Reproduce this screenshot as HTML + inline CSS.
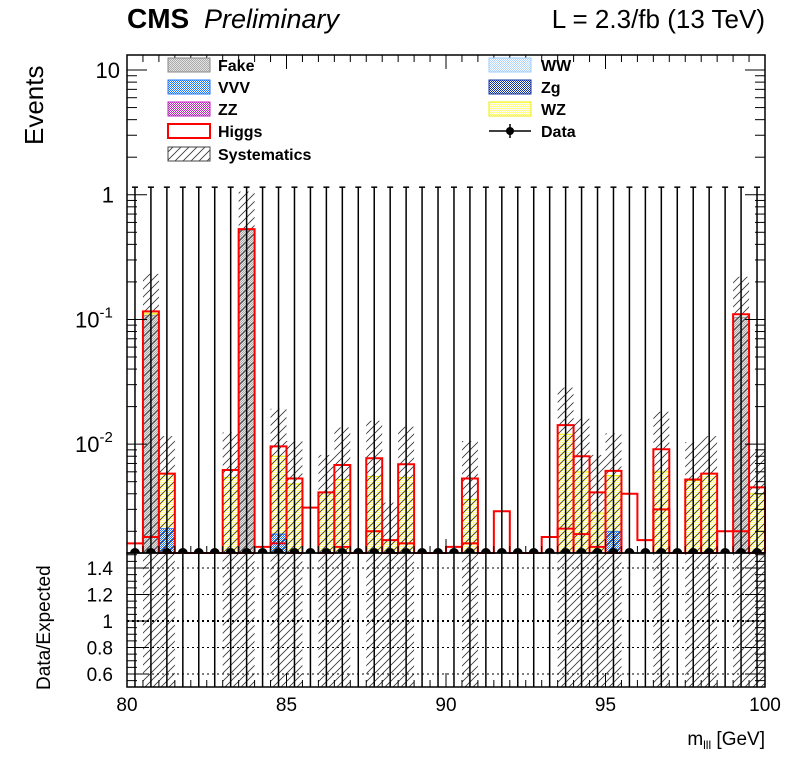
<!DOCTYPE html>
<html><head><meta charset="utf-8"><style>
body{margin:0;background:#fff;}
svg{display:block;font-family:"Liberation Sans",sans-serif;}
</style></head><body>
<svg id="c" width="796" height="772" xmlns="http://www.w3.org/2000/svg">
<defs>
<pattern id="hatch" patternUnits="userSpaceOnUse" width="8" height="8"><path d="M0,8 L8,0 M-2,2 L2,-2 M6,10 L10,6" stroke="#333" stroke-width="0.8"/></pattern>
<pattern id="gchk" patternUnits="userSpaceOnUse" width="2" height="2"><rect width="2" height="2" fill="#e4e4e4"/><rect width="1" height="1" fill="#aaa"/><rect x="1" y="1" width="1" height="1" fill="#aaa"/></pattern>
<pattern id="ychk" patternUnits="userSpaceOnUse" width="2" height="2"><rect width="2" height="2" fill="#fff"/><rect width="1" height="1" fill="#ffff80"/><rect x="1" y="1" width="1" height="1" fill="#ffff80"/></pattern>
<pattern id="bchk" patternUnits="userSpaceOnUse" width="2" height="2"><rect width="2" height="2" fill="#fff"/><rect width="1" height="1" fill="#1e78ff"/><rect x="1" y="1" width="1" height="1" fill="#1e78ff"/></pattern>
<pattern id="lbchk" patternUnits="userSpaceOnUse" width="2" height="2"><rect width="2" height="2" fill="#fff"/><rect width="1" height="1" fill="#b0d4ff"/><rect x="1" y="1" width="1" height="1" fill="#b0d4ff"/></pattern>
<pattern id="dbchk" patternUnits="userSpaceOnUse" width="2" height="2"><rect width="2" height="2" fill="#fff"/><rect width="1" height="1" fill="#1030a0"/><rect x="1" y="1" width="1" height="1" fill="#1030a0"/></pattern>
<pattern id="pchk" patternUnits="userSpaceOnUse" width="2" height="2"><rect width="2" height="2" fill="#fff"/><rect width="1" height="1" fill="#c020c0"/><rect x="1" y="1" width="1" height="1" fill="#c020c0"/></pattern>
<clipPath id="mainclip"><rect x="127" y="55" width="638" height="498"/></clipPath>
</defs>
<g id="marks"></g>
<g id="axes"></g>
<text x="127" y="28" font-size="28" font-weight="bold">CMS</text>
<text x="204" y="28" font-size="27" font-style="italic">Preliminary</text>
<text x="765" y="28" font-size="26" text-anchor="end">L = 2.3/fb (13 TeV)</text>
<text transform="translate(43,145) rotate(-90)" font-size="26">Events</text>
<text transform="translate(50,690) rotate(-90)" font-size="19">Data/Expected</text>
<text x="765" y="745" font-size="19" text-anchor="end">m<tspan font-size="12" dy="4">lll</tspan><tspan dy="-4"> [GeV]</tspan></text>
<g id="legend">
<rect x="168" y="58" width="42" height="14" fill="url(#gchk)" stroke="#888"/><text x="218" y="71" font-size="16" font-weight="bold">Fake</text>
<rect x="168" y="80" width="42" height="14" fill="url(#bchk)" stroke="#1e78ff"/><text x="218" y="93" font-size="16" font-weight="bold">VVV</text>
<rect x="168" y="102" width="42" height="14" fill="url(#pchk)" stroke="#c020c0"/><text x="218" y="115" font-size="16" font-weight="bold">ZZ</text>
<rect x="168" y="124" width="42" height="14" fill="#fff" stroke="#f00" stroke-width="2"/><text x="218" y="137" font-size="16" font-weight="bold">Higgs</text>
<rect x="168" y="147" width="42" height="14" fill="url(#hatch)" stroke="#444"/><text x="218" y="160" font-size="16" font-weight="bold">Systematics</text>
<rect x="489" y="58" width="42" height="14" fill="url(#lbchk)" stroke="#9cf"/><text x="541" y="71" font-size="16" font-weight="bold">WW</text>
<rect x="489" y="80" width="42" height="14" fill="url(#dbchk)" stroke="#1030a0"/><text x="541" y="93" font-size="16" font-weight="bold">Zg</text>
<rect x="489" y="102" width="42" height="14" fill="url(#ychk)" stroke="#ee0"/><text x="541" y="115" font-size="16" font-weight="bold">WZ</text>
<line x1="489" y1="131" x2="531" y2="131" stroke="#000" stroke-width="1.5"/><line x1="510" y1="124" x2="510" y2="138" stroke="#000" stroke-width="1.5"/><circle cx="510" cy="131" r="4" fill="#000"/><text x="541" y="137" font-size="16" font-weight="bold">Data</text>
</g>
</svg>
<script>
const binEdgesRange = [80, 100];
const nBins = 40;
const totalMC = [0,0.116,0.0058,0,0,0,0.0062,0.53,0,0.0096,0.0053,0,0.0041,0.0068,0,0.0077,0.0017,0.0069,0,0,0,0.0053,0,0,0,0,0,0.0142,0.0080,0.0041,0.0061,0,0,0.0091,0,0.0052,0.0058,0,0.110,0.0045];
const fakeVals = [0,0.108,0,0,0,0,0,0.52,0,0,0,0,0,0,0,0,0,0,0,0,0,0,0,0,0,0,0,0,0,0,0,0,0,0,0,0,0,0,0.104,0];
const wzTop = [0,0.112,0.0058,0,0,0,0.0054,0,0,0.0080,0.0048,0,0.0041,0.0052,0,0.0055,0.0017,0.0054,0,0,0,0.0036,0,0,0,0,0,0.0120,0.0060,0.0028,0.0056,0,0,0.0060,0,0.0051,0.0058,0,0,0.0040];
const vvvVals = [0,0,0.0021,0,0,0,0,0,0,0.0019,0,0,0,0,0,0,0,0,0,0,0,0,0,0,0,0,0,0,0,0,0.0020,0,0,0,0,0,0,0,0,0];
const higgsVals = [0.0016,0.0018,0,0,0,0,0,0,0.0015,0.0016,0,0.0031,0,0.0015,0,0.0020,0,0.0016,0,0,0.0015,0.0016,0,0.0029,0,0,0.0018,0.0021,0.0019,0.0015,0,0.0040,0.0017,0.0030,0,0,0,0.0020,0.0020,0];
const dataVals = new Array(40).fill(0);
const yTicksMain = [10,1,0.1,0.01];
const ratioTicks = [1.4,1.2,1,0.8,0.6];
const xTicks = [80,85,90,95,100];

const L=127,R=765,T=55,B=553,RB=687;
const ymin=Math.log10(0.00134), ymax=Math.log10(13.2);
function X(v){return L+(v-binEdgesRange[0])/(binEdgesRange[1]-binEdgesRange[0])*(R-L);}
function Y(v){ if(v<=0) return B; return B-(Math.log10(v)-ymin)/(ymax-ymin)*(B-T);}
function RY(v){return 621-(v-1)/0.2*26.5;}
const NS="http://www.w3.org/2000/svg";
const marks=document.getElementById('marks'), axes=document.getElementById('axes');
function mk(p,tag,a){const e=document.createElementNS(NS,tag);for(const k in a)e.setAttribute(k,a[k]);p.appendChild(e);return e;}
const bw=(binEdgesRange[1]-binEdgesRange[0])/nBins;
for(let i=0;i<nBins;i++){
  const x0=X(binEdgesRange[0]+i*bw), x1=X(binEdgesRange[0]+(i+1)*bw);
  if(totalMC[i]>0){
    let r;
    if(wzTop[i]>0){ r=mk(marks,'rect',{x:x0,y:Y(wzTop[i]),width:x1-x0,height:B-Y(wzTop[i]),fill:'url(#ychk)',stroke:'#ee0','stroke-width':1});
     }
    if(fakeVals[i]>0){ r=mk(marks,'rect',{x:x0,y:Y(fakeVals[i]),width:x1-x0,height:B-Y(fakeVals[i]),fill:'url(#gchk)',stroke:'#999','stroke-width':1});
     }
    if(vvvVals[i]>0){ r=mk(marks,'rect',{x:x0,y:Y(vvvVals[i]),width:x1-x0,height:B-Y(vvvVals[i]),fill:'url(#bchk)',stroke:'#1e78ff','stroke-width':1});
     }
    const h=mk(marks,'rect',{x:x0,y:Y(totalMC[i]*2),width:x1-x0,height:B-Y(totalMC[i]*2),fill:'url(#hatch)'});
     
    const rh=mk(marks,'rect',{x:x0,y:B+1,width:x1-x0,height:RB-B-1,fill:'url(#hatch)'});
     
    const tl=mk(marks,'path',{d:`M${x0},${B} V${Y(totalMC[i])} H${x1} V${B}`,fill:'none',stroke:'#f00','stroke-width':2});
     
  }
}
let d='';
for(let i=0;i<nBins;i++){
  const x0=X(binEdgesRange[0]+i*bw), x1=X(binEdgesRange[0]+(i+1)*bw);
  const y=higgsVals[i]>0?Y(higgsVals[i]):B;
  d+=(i===0?`M${x0},${y}`:` L${x0},${y}`)+` L${x1},${y}`;
}
const hl=mk(marks,'path',{d:d,fill:'none',stroke:'#f00','stroke-width':2});
 
[1.2,1,0.8].forEach(v=>{const g=mk(axes,'line',{x1:L,x2:R,y1:RY(v),y2:RY(v),stroke:'#000','stroke-width':v===1?2:1,'stroke-dasharray':'2,3'});
 });
[1.4,0.6].forEach(v=>{mk(axes,'line',{x1:L,x2:R,y1:RY(v),y2:RY(v),stroke:'#000','stroke-width':1,'stroke-dasharray':'2,3'});});
const clipG=mk(axes,'g',{'clip-path':'url(#mainclip)'});
for(let i=0;i<nBins;i++){
  const xc=X(binEdgesRange[0]+(i+0.5)*bw);
  const up=1.15;
  const e=mk(axes,'line',{x1:xc,x2:xc,y1:B,y2:Y(dataVals[i]+up),stroke:'#000','stroke-width':1.5});
   
  mk(axes,'line',{x1:xc-3,x2:xc+3,y1:Y(dataVals[i]+up),y2:Y(dataVals[i]+up),stroke:'#000','stroke-width':1.5});
  mk(axes,'line',{x1:xc,x2:xc,y1:B,y2:RB,stroke:'#000','stroke-width':1.5});
  const c=mk(clipG,'circle',{cx:xc,cy:Y(dataVals[i]),r:5,fill:'#000'});
   
}
mk(axes,'rect',{x:L,y:T,width:R-L,height:B-T,fill:'none',stroke:'#000','stroke-width':1.5});
mk(axes,'rect',{x:L,y:B,width:R-L,height:RB-B,fill:'none',stroke:'#000','stroke-width':1.5});
for(let e=-3;e<=1;e++){for(let m=1;m<10;m++){const v=m*Math.pow(10,e);const y=Y(v);if(y<T||y>B)continue;const len=m===1?20:10;
mk(axes,'line',{x1:L,x2:L+len,y1:y,y2:y,stroke:'#000'});mk(axes,'line',{x1:R-len,x2:R,y1:y,y2:y,stroke:'#000'});}}
const lbl=[["10",""],["1",""],["10","-1"],["10","-2"]];
const lblX=[120,114,75,75];
yTicksMain.forEach((v,i)=>{const t=mk(axes,'text',{x:lblX[i],y:Y(v)+8,'font-size':22,'text-anchor':lbl[i][1]?'start':'end'});
 
t.textContent=lbl[i][0]; if(lbl[i][1]){const s=document.createElementNS(NS,'tspan');s.setAttribute('dy','-10');s.setAttribute('font-size','15');s.textContent=lbl[i][1];t.appendChild(s);}});
for(let v=0.5;v<=1.52;v+=0.05){const y=RY(v);if(y<B||y>RB)continue;const major=Math.abs(v*10-Math.round(v*10))<1e-6&&Math.round(v*10)%2===0;
mk(axes,'line',{x1:L,x2:L+(major?20:10),y1:y,y2:y,stroke:'#000'});mk(axes,'line',{x1:R-(major?20:10),x2:R,y1:y,y2:y,stroke:'#000'});}
ratioTicks.forEach(v=>{const t=mk(axes,'text',{x:113,y:RY(v)+7,'font-size':19,'text-anchor':'end'});
  t.textContent=String(v);});
for(let v=80;v<=100.001;v+=0.5){const x=X(v);const major=Math.abs(v%5)<1e-6;const len=major?14:7;
mk(axes,'line',{x1:x,x2:x,y1:RB,y2:RB-len,stroke:'#000'});mk(axes,'line',{x1:x,x2:x,y1:T,y2:T+len,stroke:'#000'});mk(axes,'line',{x1:x,x2:x,y1:B,y2:B-len,stroke:'#000'});}
xTicks.forEach(v=>{const t=mk(axes,'text',{x:X(v),y:711,'font-size':19,'text-anchor':'middle'});
  t.textContent=String(v);});
</script>
</body></html>
